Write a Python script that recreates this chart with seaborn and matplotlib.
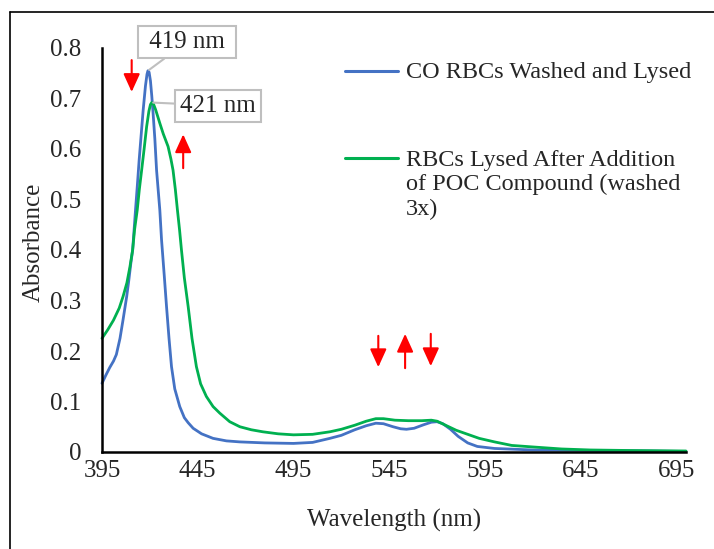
import matplotlib
matplotlib.use("Agg")
import matplotlib.pyplot as plt
import seaborn as sns
import pandas as pd
from matplotlib.ticker import FuncFormatter, MultipleLocator
from matplotlib.lines import Line2D

# Datos (longitud de onda en nm, absorbancia)
wl_co = [395, 397, 399, 401, 402.5, 404.4, 406, 407.9, 409, 410.1, 411, 412.5, 413.5, 414.4,
         415.5, 416.5, 417.7, 418.5, 419, 419.6, 420.3, 421, 421.7, 422.6, 423.5, 425.2, 426.1,
         427.5, 428.7, 430, 431.3, 433, 435.6, 438, 440, 442.6, 447, 453, 460, 467,
         480, 495, 505, 514, 520, 527, 533, 538, 542, 547, 551, 554, 558, 563, 567,
         570, 573, 577, 581, 586, 591, 600, 620, 650, 680, 700]
abs_co = [0.136, 0.152, 0.167, 0.180, 0.193, 0.225, 0.262, 0.308, 0.340, 0.375, 0.400, 0.479,
          0.530, 0.578, 0.630, 0.677, 0.725, 0.748, 0.755, 0.752, 0.735, 0.705, 0.670, 0.620,
          0.558, 0.479, 0.420, 0.350, 0.288, 0.225, 0.169, 0.125, 0.090, 0.068, 0.058, 0.047,
          0.036, 0.027, 0.022, 0.020, 0.018, 0.017, 0.019, 0.027, 0.033, 0.044, 0.052,
          0.057, 0.056, 0.050, 0.046, 0.045, 0.047, 0.054, 0.059, 0.060, 0.056, 0.045,
          0.031, 0.018, 0.011, 0.007, 0.004, 0.003, 0.002, 0.001]

wl_poc = [395, 398, 401, 404, 406, 408, 409.6, 411, 412, 413.4, 414.5, 415.7, 417,
          418.3, 419.5, 420.3, 421, 421.8, 423, 425.2, 427, 429.5, 431, 432.1, 433.3, 434.4,
          435.5, 436.5, 438, 440, 442, 444.3, 446.5, 449.5, 453, 456.5, 461.7, 467,
          473, 479, 487, 495, 505, 514, 520, 527, 533, 538, 542, 548, 555, 562, 567,
          570, 575, 580, 586, 592, 600, 609, 620, 635, 650, 670, 700]
abs_poc = [0.225, 0.242, 0.261, 0.285, 0.308, 0.335, 0.367, 0.400, 0.440, 0.479, 0.520,
           0.558, 0.600, 0.644, 0.675, 0.688, 0.692, 0.690, 0.678, 0.651, 0.630, 0.605, 0.580,
           0.558, 0.520, 0.479, 0.440, 0.400, 0.345, 0.288, 0.225, 0.169, 0.135, 0.110,
           0.090, 0.077, 0.060, 0.050, 0.044, 0.040, 0.036, 0.034, 0.035, 0.040, 0.045,
           0.053, 0.061, 0.066, 0.066, 0.063, 0.062, 0.062, 0.063, 0.061, 0.052, 0.043,
           0.035, 0.027, 0.020, 0.013, 0.010, 0.006, 0.004, 0.003, 0.002]

label_co = "CO RBCs Washed and Lysed"
label_poc = "RBCs Lysed After Addition\nof POC Compound (washed\n3x)"

# Flechas rojas: (x, y inicio, y punta)
arrow_x = [410.5, 437.4, 539.3, 553.3, 566.7]
arrow_from = [0.776, 0.562, 0.230, 0.166, 0.234]
arrow_to = [0.713, 0.629, 0.168, 0.234, 0.170]

peak_labels = [" 419 nm ", "421 nm"]
peak_xy = [(419, 0.755), (421, 0.692)]
peak_text_xy = [(439.3, 0.812), (455.4, 0.686)]

df = pd.concat([
    pd.DataFrame({"wl": wl_co, "abs": abs_co, "serie": label_co}),
    pd.DataFrame({"wl": wl_poc, "abs": abs_poc, "serie": label_poc}),
])

sns.set_style("white")
plt.rcParams["font.family"] = ["Liberation Serif", "DejaVu Serif"]
fs = 18

fig = plt.figure(figsize=(7.14, 5.49), dpi=100)
ax = fig.add_axes([102 / 714, 1 - 452 / 549, 584 / 714, 404 / 549])

sns.lineplot(data=df, x="wl", y="abs", hue="serie", sort=False,
             palette={label_co: "#4472C4", label_poc: "#00B050"},
             linewidth=2.0, ax=ax, legend=False, clip_on=False)

ax.set_xlim(395, 700)
ax.set_ylim(0, 0.8)
ax.set_xticks(range(395, 700, 50))
ax.yaxis.set_major_locator(MultipleLocator(0.1))
ax.yaxis.set_major_formatter(FuncFormatter(lambda v, p: "0" if abs(v) < 1e-9 else f"{v:.1f}"))
ax.tick_params(direction="in", length=6, width=1.5, labelsize=fs, color="black")
ax.tick_params(axis="x", pad=6)
ax.tick_params(axis="y", pad=15)
ax.set_xlabel("Wavelength (nm)", fontsize=fs, labelpad=19)
ax.set_ylabel("Absorbance", fontsize=fs)
ax.yaxis.set_label_coords(-57 / 584, 0.52)
for s in ["top", "right"]:
    ax.spines[s].set_visible(False)
for s in ["left", "bottom"]:
    ax.spines[s].set_linewidth(1.8)
    ax.spines[s].set_color("black")

# Etiquetas de los picos
for txt, xy, xyt in zip(peak_labels, peak_xy, peak_text_xy):
    ax.annotate(txt, xy=xy, xytext=xyt, fontsize=fs, ha="center", va="center",
                annotation_clip=False,
                bbox=dict(boxstyle="square,pad=0.2", fc="white", ec="#BFBFBF", lw=1.5),
                arrowprops=dict(arrowstyle="-", color="#BFBFBF", lw=1.5, shrinkA=0, shrinkB=1))

# Flechas rojas
for x, y0, y1 in zip(arrow_x, arrow_from, arrow_to):
    ax.annotate("", xy=(x, y1), xytext=(x, y0),
                arrowprops=dict(arrowstyle="-|>,head_length=0.55,head_width=0.25",
                                color="red", lw=1.5, mutation_scale=20,
                                shrinkA=0, shrinkB=0))

handles = [Line2D([], [], color="#4472C4", lw=2.2), Line2D([], [], color="#00B050", lw=2.2)]
leg = ax.legend(handles, [label_co, label_poc], loc="upper left",
                bbox_to_anchor=((345 - 102) / 584, (452 - 62) / 404),
                frameon=False, fontsize=17.5, handlelength=2.2, handletextpad=0.3,
                labelspacing=2.75, borderpad=0, borderaxespad=0)
for col in leg._legend_handle_box.get_children():
    for hp in col.get_children():
        hp.align = "top"

# Marco de la figura (solo izquierda y arriba visibles)
fig.add_artist(Line2D([10 / 714, 10 / 714], [0, 1 - 12 / 549], transform=fig.transFigure,
                      color="black", lw=1.2))
fig.add_artist(Line2D([10 / 714, 1], [1 - 12 / 549, 1 - 12 / 549], transform=fig.transFigure,
                      color="black", lw=1.2))

fig.savefig("out.png", dpi=100)
